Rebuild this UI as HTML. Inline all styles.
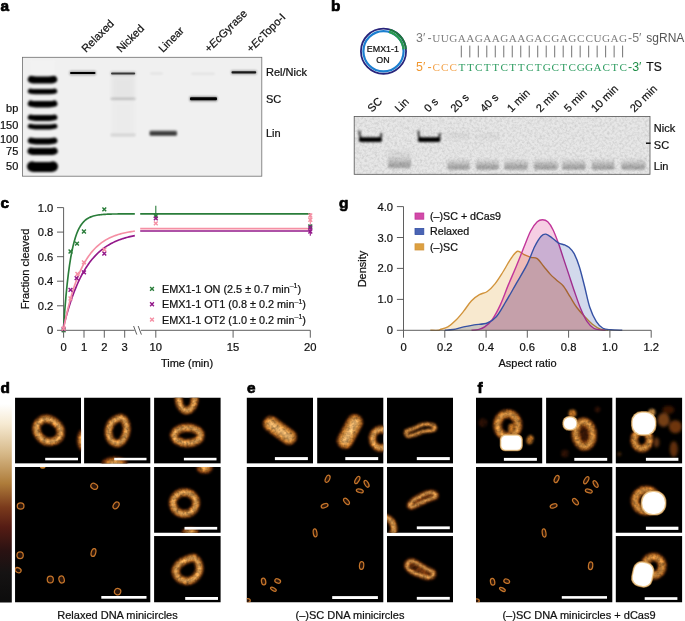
<!DOCTYPE html>
<html lang="en"><head><meta charset="utf-8"><title>Figure</title>
<style>
html,body{margin:0;padding:0;background:#fff;}
body{width:685px;height:621px;overflow:hidden;font-family:'Liberation Sans', sans-serif;}
svg{display:block;position:absolute;left:0;top:0;}
text{white-space:pre;}
</style></head>
<body>
<svg width="685" height="621" viewBox="0 0 685 621" font-family="'Liberation Sans', sans-serif" font-size="11">
<defs>
<filter id="b05" x="-50%" y="-200%" width="200%" height="500%"><feGaussianBlur stdDeviation="0.5"/></filter>
<filter id="b08" x="-50%" y="-200%" width="200%" height="500%"><feGaussianBlur stdDeviation="0.8"/></filter>
<filter id="b12" x="-50%" y="-200%" width="200%" height="500%"><feGaussianBlur stdDeviation="1.2"/></filter>
<filter id="b20" x="-50%" y="-200%" width="200%" height="500%"><feGaussianBlur stdDeviation="2"/></filter>
<filter id="afm" x="-100%" y="-100%" width="300%" height="300%" color-interpolation-filters="sRGB">
  <feGaussianBlur in="SourceGraphic" stdDeviation="1.0" result="b"/>
  <feTurbulence type="fractalNoise" baseFrequency="0.3" numOctaves="2" seed="11" result="n"/>
  <feColorMatrix in="n" type="matrix" values="0.8 0.8 0 0 -0.3  0.8 0.8 0 0 -0.3  0.8 0.8 0 0 -0.3  0 0 0 0 1" result="ng"/>
  <feComposite in="b" in2="ng" operator="arithmetic" k1="0.7" k2="0.68" k3="0" k4="0" result="m"/>
  <feGaussianBlur in="m" stdDeviation="0.45"/>
</filter>
<filter id="afmw" x="-100%" y="-100%" width="300%" height="300%"><feGaussianBlur stdDeviation="0.7"/></filter>
<filter id="afm3" x="-100%" y="-100%" width="300%" height="300%"><feGaussianBlur stdDeviation="1.8"/></filter>
<filter id="afm2" x="-30%" y="-30%" width="160%" height="160%"><feGaussianBlur stdDeviation="0.45"/></filter>
<filter id="noiseB" x="0" y="0" width="100%" height="100%">
  <feTurbulence type="fractalNoise" baseFrequency="0.4" numOctaves="3" seed="7" result="n"/>
  <feColorMatrix in="n" type="matrix" values="0 0 0 0 0  0 0 0 0 0  0 0 0 0 0  0.8 0 0 0 -0.3" result="m"/>
  <feGaussianBlur in="m" stdDeviation="0.5"/>
</filter>
<linearGradient id="cbar" x1="0" y1="0" x2="0" y2="1">
  <stop offset="0" stop-color="#ffffff"/>
  <stop offset="0.10" stop-color="#f6ead2"/>
  <stop offset="0.25" stop-color="#d6b888"/>
  <stop offset="0.40" stop-color="#ae7c3a"/>
  <stop offset="0.52" stop-color="#7a3a1c"/>
  <stop offset="0.62" stop-color="#551c14"/>
  <stop offset="0.74" stop-color="#2a1212"/>
  <stop offset="0.85" stop-color="#151313"/>
  <stop offset="1" stop-color="#0c0c0c"/>
</linearGradient>
<linearGradient id="smear" x1="0" y1="0" x2="0" y2="1">
  <stop offset="0" stop-color="#000" stop-opacity="0"/>
  <stop offset="0.35" stop-color="#000" stop-opacity="0.1"/>
  <stop offset="0.8" stop-color="#000" stop-opacity="0.3"/>
  <stop offset="1" stop-color="#000" stop-opacity="0.22"/>
</linearGradient>
<linearGradient id="smear2" x1="0" y1="0" x2="0" y2="1">
  <stop offset="0" stop-color="#000" stop-opacity="0.02"/>
  <stop offset="0.45" stop-color="#000" stop-opacity="0.08"/>
  <stop offset="0.85" stop-color="#000" stop-opacity="0.3"/>
  <stop offset="1" stop-color="#000" stop-opacity="0.2"/>
</linearGradient>
</defs>
<text x="0.5" y="11" font-size="15.4" fill="#000" font-weight="bold" stroke="#000" stroke-width="0.7" stroke-linejoin="round">a</text>
<text x="331" y="10.7" font-size="15.4" fill="#000" font-weight="bold" stroke="#000" stroke-width="0.7" stroke-linejoin="round">b</text>
<text x="0.5" y="208.2" font-size="15.4" fill="#000" font-weight="bold" stroke="#000" stroke-width="0.7" stroke-linejoin="round">c</text>
<text x="339.0" y="208.1" font-size="15.4" fill="#000" font-weight="bold" stroke="#000" stroke-width="0.7" stroke-linejoin="round">g</text>
<text x="0.5" y="392.6" font-size="15.4" fill="#000" font-weight="bold" stroke="#000" stroke-width="0.7" stroke-linejoin="round">d</text>
<text x="247" y="392.6" font-size="15.4" fill="#000" font-weight="bold" stroke="#000" stroke-width="0.7" stroke-linejoin="round">e</text>
<text x="477.6" y="392.6" font-size="15.4" fill="#000" font-weight="bold" stroke="#000" stroke-width="0.7" stroke-linejoin="round">f</text>
<rect x="22.5" y="57.3" width="239.3" height="118.89999999999999" fill="#f0f0f0" stroke="#6e6e6e" stroke-width="0.8"/>
<rect x="30" y="60" width="25" height="16" fill="#fff" opacity="0.16" filter="url(#b12)"/>
<g filter="url(#b08)" fill="none" stroke="#000" stroke-linecap="round" stroke-linejoin="round">
<path d="M31.4 79.4Q32.9 80.0 36.4 80.0H48.6Q52.1 80.0 53.6 79.4" stroke-width="7.2"/>
<path d="M30.4 91.1Q31.9 91.7 35.4 91.7H49.6Q53.1 91.7 54.6 91.1" stroke-width="5.2"/>
<path d="M31.0 103.6Q32.5 104.2 36.0 104.2H49.2Q52.7 104.2 54.2 103.6" stroke-width="6.4"/>
<path d="M30.7 117.4Q32.2 118.0 35.7 118.0H49.5Q53.0 118.0 54.5 117.4" stroke-width="5.8"/>
<path d="M30.3 126.3Q31.8 126.9 35.3 126.9H49.9Q53.4 126.9 54.9 126.3" stroke-width="5.0"/>
<path d="M30.9 140.7Q32.4 141.3 35.9 141.3H49.3Q52.8 141.3 54.3 140.7" stroke-width="6.2"/>
<path d="M31.0 151.0Q32.5 151.6 36.0 151.6H49.2Q52.7 151.6 54.2 151.0" stroke-width="7.0"/>
<path d="M32.1 166.4Q33.6 167.0 37.1 167.0H47.9Q51.4 167.0 52.9 166.4" stroke-width="10.2"/>
</g>
<rect x="111.5" y="76" width="23.5" height="24" fill="#000" opacity="0.04" filter="url(#b20)"/>
<rect x="111.5" y="100" width="23.5" height="36" fill="#000" opacity="0.015" filter="url(#b20)"/>
<rect x="69.5" y="70.80" width="26.5" height="4.4" rx="1" fill="#000" opacity="0.3" filter="url(#b08)"/>
<rect x="70" y="72.00" width="25.5" height="2.0" rx="1" fill="#000" opacity="1" filter="url(#b05)"/>
<rect x="110.5" y="71.40" width="25.2" height="4.0" rx="1" fill="#000" opacity="0.2" filter="url(#b08)"/>
<rect x="111" y="72.40" width="24.2" height="2.0" rx="1" fill="#000" opacity="0.7" filter="url(#b05)"/>
<rect x="110.5" y="97.80" width="25.2" height="2.0" rx="1" fill="#000" opacity="0.2" filter="url(#b08)"/>
<rect x="110.5" y="133.50" width="25.2" height="3.0" rx="1" fill="#000" opacity="0.1" filter="url(#b12)"/>
<rect x="150" y="72.40" width="13.0" height="2.0" rx="1" fill="#000" opacity="0.06" filter="url(#b08)"/>
<rect x="149.5" y="130.50" width="27.5" height="5.6" rx="1" fill="#000" opacity="0.45" filter="url(#b12)"/>
<rect x="150" y="131.70" width="26.5" height="3.2" rx="1" fill="#000" opacity="0.6" filter="url(#b08)"/>
<rect x="191" y="72.80" width="24.0" height="2.0" rx="1" fill="#000" opacity="0.06" filter="url(#b08)"/>
<rect x="189.6" y="96.40" width="27.7" height="4.8" rx="1" fill="#000" opacity="0.45" filter="url(#b08)"/>
<rect x="190" y="97.30" width="27.0" height="3.0" rx="1" fill="#000" opacity="1" filter="url(#b05)"/>
<rect x="231" y="70.20" width="25.7" height="4.2" rx="1" fill="#000" opacity="0.3" filter="url(#b08)"/>
<rect x="231.5" y="71.15" width="24.7" height="2.3" rx="1" fill="#000" opacity="0.85" filter="url(#b05)"/>
<text x="86" y="53" font-size="11" fill="#111" transform="rotate(-45 86 53)" stroke="#111" stroke-width="0.22">Relaxed</text>
<text x="121" y="53" font-size="11" fill="#111" transform="rotate(-45 121 53)" stroke="#111" stroke-width="0.22">Nicked</text>
<text x="163" y="53" font-size="11" fill="#111" transform="rotate(-45 163 53)" stroke="#111" stroke-width="0.22">Linear</text>
<text x="209" y="53" font-size="11" fill="#111" transform="rotate(-45 209 53)" stroke="#111" stroke-width="0.22">+<tspan font-style="italic">Ec</tspan>Gyrase</text>
<text x="251" y="53" font-size="11" fill="#111" transform="rotate(-45 251 53)" stroke="#111" stroke-width="0.22">+<tspan font-style="italic">Ec</tspan>Topo-I</text>
<text x="18.3" y="111.6" font-size="11" fill="#111" text-anchor="end" stroke="#111" stroke-width="0.22">bp</text>
<text x="18.3" y="129" font-size="11" fill="#111" text-anchor="end" stroke="#111" stroke-width="0.22">150</text>
<text x="18.3" y="143" font-size="11" fill="#111" text-anchor="end" stroke="#111" stroke-width="0.22">100</text>
<text x="18.3" y="155" font-size="11" fill="#111" text-anchor="end" stroke="#111" stroke-width="0.22">75</text>
<text x="18.3" y="170" font-size="11" fill="#111" text-anchor="end" stroke="#111" stroke-width="0.22">50</text>
<text x="266" y="76" font-size="11" fill="#111" stroke="#111" stroke-width="0.22">Rel/Nick</text>
<text x="266" y="103" font-size="11" fill="#111" stroke="#111" stroke-width="0.22">SC</text>
<text x="266" y="137" font-size="11" fill="#111" stroke="#111" stroke-width="0.22">Lin</text>
<circle cx="383.5" cy="51.2" r="22.55" fill="#fff" stroke="#27247b" stroke-width="1.8"/>
<circle cx="383.5" cy="51.2" r="20.1" fill="none" stroke="#1b7fd0" stroke-width="2.2"/>
<path d="M389.72 29.52 A22.55 22.55 0 0 1 405.96 49.23" fill="none" stroke="#1b7a3a" stroke-width="1.8"/>
<path d="M389.04 31.88 A20.1 20.1 0 0 1 403.52 49.45" fill="none" stroke="#2a9a4c" stroke-width="2.2"/>
<text x="382.9" y="51.6" font-size="8.9" fill="#111" text-anchor="middle" stroke="#111" stroke-width="0.22">EMX1-1</text>
<text x="382.9" y="63" font-size="8.9" fill="#111" text-anchor="middle" stroke="#111" stroke-width="0.22">ON</text>
<text x="416" y="41.6" font-size="12.4" fill="#7a7a7a">3′<tspan dx="2.2">-</tspan></text>
<text x="432.30 440.79 449.28 457.77 466.26 474.75 483.24 491.73 500.22 508.71 517.20 525.69 534.18 542.98 551.16 559.65 568.14 576.94 585.43 593.61 602.10 610.59 619.08" y="41.7" font-family="'Liberation Serif', serif" font-size="11.2" fill="#7f7f7f">UUGAAGAAGAAGACGAGCCUGAG</text>
<text x="628.0" y="41.6" font-size="12.4" fill="#7a7a7a">-5′</text>
<text x="646.3" y="41.5" font-size="12" fill="#555">sgRNA</text>
<text x="416" y="70.9" font-size="12.4" fill="#f0962e">5′<tspan dx="2.2">-</tspan></text>
<text x="432.61 441.10 449.59 458.39 466.88 475.06 483.86 492.35 500.53 509.33 517.82 526.00 534.80 542.67 551.47 560.27 568.45 576.63 585.12 593.61 602.41 611.21 619.39" y="70.7" font-family="'Liberation Serif', serif" font-size="11.2" fill="#2f9d62"><tspan fill="#f3a24a">CCC</tspan>TTCTTCTTCTGCTCGGACTC</text>
<text x="628.0" y="70.9" font-size="12.4" fill="#1c8c45">-3′</text>
<text x="646.3" y="70.8" font-size="12" fill="#111" stroke="#111" stroke-width="0.22">TS</text>
<line x1="461.31" y1="45.6" x2="461.31" y2="57.4" stroke="#444" stroke-width="0.75"/>
<line x1="469.81" y1="45.6" x2="469.81" y2="57.4" stroke="#444" stroke-width="0.75"/>
<line x1="478.30" y1="45.6" x2="478.30" y2="57.4" stroke="#444" stroke-width="0.75"/>
<line x1="486.79" y1="45.6" x2="486.79" y2="57.4" stroke="#444" stroke-width="0.75"/>
<line x1="495.28" y1="45.6" x2="495.28" y2="57.4" stroke="#444" stroke-width="0.75"/>
<line x1="503.77" y1="45.6" x2="503.77" y2="57.4" stroke="#444" stroke-width="0.75"/>
<line x1="512.25" y1="45.6" x2="512.25" y2="57.4" stroke="#444" stroke-width="0.75"/>
<line x1="520.75" y1="45.6" x2="520.75" y2="57.4" stroke="#444" stroke-width="0.75"/>
<line x1="529.24" y1="45.6" x2="529.24" y2="57.4" stroke="#444" stroke-width="0.75"/>
<line x1="537.72" y1="45.6" x2="537.72" y2="57.4" stroke="#444" stroke-width="0.75"/>
<line x1="546.21" y1="45.6" x2="546.21" y2="57.4" stroke="#444" stroke-width="0.75"/>
<line x1="554.70" y1="45.6" x2="554.70" y2="57.4" stroke="#444" stroke-width="0.75"/>
<line x1="563.19" y1="45.6" x2="563.19" y2="57.4" stroke="#444" stroke-width="0.75"/>
<line x1="571.68" y1="45.6" x2="571.68" y2="57.4" stroke="#444" stroke-width="0.75"/>
<line x1="580.17" y1="45.6" x2="580.17" y2="57.4" stroke="#444" stroke-width="0.75"/>
<line x1="588.66" y1="45.6" x2="588.66" y2="57.4" stroke="#444" stroke-width="0.75"/>
<line x1="597.15" y1="45.6" x2="597.15" y2="57.4" stroke="#444" stroke-width="0.75"/>
<line x1="605.64" y1="45.6" x2="605.64" y2="57.4" stroke="#444" stroke-width="0.75"/>
<line x1="614.13" y1="45.6" x2="614.13" y2="57.4" stroke="#444" stroke-width="0.75"/>
<line x1="622.62" y1="45.6" x2="622.62" y2="57.4" stroke="#444" stroke-width="0.75"/>
<rect x="354.2" y="116.5" width="295.8" height="57.80000000000001" fill="#e7e7e7"/>
<rect x="354.2" y="116.5" width="295.8" height="57.80000000000001" fill="#000" filter="url(#noiseB)" opacity="0.27"/>
<clipPath id="cpgb"><rect x="354.2" y="116.5" width="295.8" height="57.80000000000001"/></clipPath>
<g clip-path="url(#cpgb)">
<g filter="url(#b08)">
<rect x="388" y="149.5" width="23" height="19" rx="3" fill="url(#smear2)"/>
<rect x="447.3" y="157.5" width="22.4" height="12.4" rx="2.5" fill="url(#smear)"/>
<rect x="476.0" y="157.5" width="22.5" height="12.4" rx="2.5" fill="url(#smear)"/>
<rect x="504.3" y="157.5" width="23.4" height="12.4" rx="2.5" fill="url(#smear)"/>
<rect x="533.9" y="157.5" width="23.5" height="12.4" rx="2.5" fill="url(#smear)"/>
<rect x="562.3" y="157.5" width="23.4" height="12.4" rx="2.5" fill="url(#smear)"/>
<rect x="591.6999999999999" y="157.5" width="22.8" height="12.4" rx="2.5" fill="url(#smear)"/>
<rect x="621.3" y="157.5" width="24.1" height="12.4" rx="2.5" fill="url(#smear)"/>
</g>
<g filter="url(#b20)">
<rect x="447" y="133" width="23" height="5" rx="2" fill="#000" opacity="0.07"/>
<rect x="476" y="134" width="23" height="5" rx="2" fill="#000" opacity="0.05"/>
</g>
<g filter="url(#b08)">
<path d="M359.6 130.5 Q359.1 138.5 362.8 139.6 H378 Q381.7 138.5 381.2 133" fill="none" stroke="#000" stroke-width="2.2" opacity="0.7"/>
<rect x="358.8" y="137.3" width="23.2" height="4.8" rx="2" fill="#000"/>
<path d="M418.6 130.5 Q418.1 138.5 421.8 139.6 H436.5 Q440.2 138.5 439.7 133" fill="none" stroke="#000" stroke-width="2.2" opacity="0.7"/>
<rect x="417.8" y="137.3" width="22.7" height="4.8" rx="2" fill="#000"/>
</g>
</g>
<rect x="354.2" y="116.5" width="295.8" height="57.80000000000001" fill="none" stroke="#555" stroke-width="0.8"/>
<rect x="646" y="142.5" width="4.6" height="1.4" fill="#000" filter="url(#b05)"/>
<text x="372" y="112.8" font-size="11" fill="#111" transform="rotate(-45 372 112.8)" stroke="#111" stroke-width="0.22">SC</text>
<text x="399.3" y="112.8" font-size="11" fill="#111" transform="rotate(-45 399.3 112.8)" stroke="#111" stroke-width="0.22">Lin</text>
<text x="428.5" y="112.8" font-size="11" fill="#111" transform="rotate(-45 428.5 112.8)" stroke="#111" stroke-width="0.22">0 s</text>
<text x="455" y="112.8" font-size="11" fill="#111" transform="rotate(-45 455 112.8)" stroke="#111" stroke-width="0.22">20 s</text>
<text x="484.5" y="112.8" font-size="11" fill="#111" transform="rotate(-45 484.5 112.8)" stroke="#111" stroke-width="0.22">40 s</text>
<text x="511.5" y="112.8" font-size="11" fill="#111" transform="rotate(-45 511.5 112.8)" stroke="#111" stroke-width="0.22">1 min</text>
<text x="540.5" y="112.8" font-size="11" fill="#111" transform="rotate(-45 540.5 112.8)" stroke="#111" stroke-width="0.22">2 min</text>
<text x="568.5" y="112.8" font-size="11" fill="#111" transform="rotate(-45 568.5 112.8)" stroke="#111" stroke-width="0.22">5 min</text>
<text x="595.5" y="112.8" font-size="11" fill="#111" transform="rotate(-45 595.5 112.8)" stroke="#111" stroke-width="0.22">10 min</text>
<text x="634.5" y="112.8" font-size="11" fill="#111" transform="rotate(-45 634.5 112.8)" stroke="#111" stroke-width="0.22">20 min</text>
<text x="653.8" y="131.7" font-size="11" fill="#111" stroke="#111" stroke-width="0.22">Nick</text>
<text x="653.8" y="149.3" font-size="11" fill="#111" stroke="#111" stroke-width="0.22">SC</text>
<text x="653.8" y="170" font-size="11" fill="#111" stroke="#111" stroke-width="0.22">Lin</text>
<path d="M63.6 207.6V330.3H134.6M141 330.3H310.3" fill="none" stroke="#4d4d4d" stroke-width="0.9"/>
<path d="M133.6 326L136.8 334.6M138.2 326L141.4 334.6" fill="none" stroke="#4d4d4d" stroke-width="0.9"/>
<line x1="57.0" x2="63.6" y1="330.3" y2="330.3" stroke="#4d4d4d" stroke-width="0.9"/>
<text x="53.3" y="334.3" font-size="11.2" fill="#111" text-anchor="end" stroke="#111" stroke-width="0.22">0</text>
<line x1="57.0" x2="63.6" y1="305.8" y2="305.8" stroke="#4d4d4d" stroke-width="0.9"/>
<text x="53.3" y="309.8" font-size="11.2" fill="#111" text-anchor="end" stroke="#111" stroke-width="0.22">0.2</text>
<line x1="57.0" x2="63.6" y1="281.2" y2="281.2" stroke="#4d4d4d" stroke-width="0.9"/>
<text x="53.3" y="285.2" font-size="11.2" fill="#111" text-anchor="end" stroke="#111" stroke-width="0.22">0.4</text>
<line x1="57.0" x2="63.6" y1="256.7" y2="256.7" stroke="#4d4d4d" stroke-width="0.9"/>
<text x="53.3" y="260.7" font-size="11.2" fill="#111" text-anchor="end" stroke="#111" stroke-width="0.22">0.6</text>
<line x1="57.0" x2="63.6" y1="232.1" y2="232.1" stroke="#4d4d4d" stroke-width="0.9"/>
<text x="53.3" y="236.1" font-size="11.2" fill="#111" text-anchor="end" stroke="#111" stroke-width="0.22">0.8</text>
<line x1="57.0" x2="63.6" y1="207.6" y2="207.6" stroke="#4d4d4d" stroke-width="0.9"/>
<text x="53.3" y="211.6" font-size="11.2" fill="#111" text-anchor="end" stroke="#111" stroke-width="0.22">1.0</text>
<line x1="63.6" x2="63.6" y1="330.3" y2="337.7" stroke="#4d4d4d" stroke-width="0.9"/>
<text x="63.6" y="351.3" font-size="11.2" fill="#111" text-anchor="middle" stroke="#111" stroke-width="0.22">0</text>
<line x1="84.0" x2="84.0" y1="330.3" y2="337.7" stroke="#4d4d4d" stroke-width="0.9"/>
<text x="84.0" y="351.3" font-size="11.2" fill="#111" text-anchor="middle" stroke="#111" stroke-width="0.22">1</text>
<line x1="104.3" x2="104.3" y1="330.3" y2="337.7" stroke="#4d4d4d" stroke-width="0.9"/>
<text x="104.3" y="351.3" font-size="11.2" fill="#111" text-anchor="middle" stroke="#111" stroke-width="0.22">2</text>
<line x1="124.7" x2="124.7" y1="330.3" y2="337.7" stroke="#4d4d4d" stroke-width="0.9"/>
<text x="124.7" y="351.3" font-size="11.2" fill="#111" text-anchor="middle" stroke="#111" stroke-width="0.22">3</text>
<line x1="155.8" x2="155.8" y1="330.3" y2="337.7" stroke="#4d4d4d" stroke-width="0.9"/>
<text x="155.8" y="351.3" font-size="11.2" fill="#111" text-anchor="middle" stroke="#111" stroke-width="0.22">10</text>
<line x1="233.1" x2="233.1" y1="330.3" y2="337.7" stroke="#4d4d4d" stroke-width="0.9"/>
<text x="233.1" y="351.3" font-size="11.2" fill="#111" text-anchor="middle" stroke="#111" stroke-width="0.22">15</text>
<line x1="310.3" x2="310.3" y1="330.3" y2="337.7" stroke="#4d4d4d" stroke-width="0.9"/>
<text x="310.3" y="351.3" font-size="11.2" fill="#111" text-anchor="middle" stroke="#111" stroke-width="0.22">20</text>
<text x="187" y="367.3" font-size="11" fill="#111" text-anchor="middle" stroke="#111" stroke-width="0.22">Time (min)</text>
<text x="29" y="269" font-size="11" fill="#111" text-anchor="middle" transform="rotate(-90 29 269)" stroke="#111" stroke-width="0.22">Fraction cleaved</text>
<path d="M63.60 326.62L64.79 310.19L65.97 296.15L67.16 284.16L68.35 273.91L69.54 265.16L70.72 257.69L71.91 251.30L73.10 245.84L74.28 241.18L75.47 237.20L76.66 233.80L77.84 230.89L79.03 228.41L80.22 226.29L81.41 224.48L82.59 222.93L83.78 221.61L84.97 220.48L86.15 219.51L87.34 218.69L88.53 217.99L89.72 217.38L90.90 216.87L92.09 216.43L93.28 216.06L94.46 215.74L95.65 215.46L96.84 215.23L98.03 215.03L99.21 214.86L100.40 214.71L101.59 214.59L102.77 214.48L103.96 214.39L105.15 214.31L106.34 214.25L107.52 214.19L108.71 214.14L109.90 214.10L111.08 214.06L112.27 214.03L113.46 214.01L114.64 213.99L115.83 213.97L117.02 213.95L118.21 213.94L119.39 213.93L120.58 213.92L121.77 213.91L122.95 213.90L124.14 213.89L125.33 213.89L126.52 213.88L127.70 213.88L128.89 213.88L130.08 213.87L131.26 213.87L132.45 213.87L133.64 213.87L134.83 213.87" fill="none" stroke="#2a7d3a" stroke-width="1.65" stroke-linejoin="round"/>
<path d="M140.2 213.86H310.3" fill="none" stroke="#2a7d3a" stroke-width="1.65"/>
<path d="M63.60 326.62L64.79 321.89L65.97 317.39L67.16 313.12L68.35 309.06L69.54 305.20L70.72 301.53L71.91 298.04L73.10 294.72L74.28 291.57L75.47 288.58L76.66 285.73L77.84 283.02L79.03 280.45L80.22 278.01L81.41 275.68L82.59 273.47L83.78 271.37L84.97 269.38L86.15 267.48L87.34 265.68L88.53 263.96L89.72 262.33L90.90 260.78L92.09 259.31L93.28 257.91L94.46 256.58L95.65 255.32L96.84 254.12L98.03 252.97L99.21 251.89L100.40 250.86L101.59 249.88L102.77 248.94L103.96 248.06L105.15 247.22L106.34 246.41L107.52 245.65L108.71 244.93L109.90 244.24L111.08 243.59L112.27 242.97L113.46 242.38L114.64 241.82L115.83 241.28L117.02 240.78L118.21 240.29L119.39 239.84L120.58 239.40L121.77 238.99L122.95 238.59L124.14 238.22L125.33 237.86L126.52 237.53L127.70 237.20L128.89 236.90L130.08 236.61L131.26 236.33L132.45 236.07L133.64 235.82L134.83 235.59" fill="none" stroke="#93188a" stroke-width="1.65" stroke-linejoin="round"/>
<path d="M140.2 231.04H310.3" fill="none" stroke="#93188a" stroke-width="1.65"/>
<path d="M63.60 328.83L64.79 322.87L65.97 317.27L67.16 312.00L68.35 307.04L69.54 302.38L70.72 298.00L71.91 293.87L73.10 289.99L74.28 286.35L75.47 282.91L76.66 279.69L77.84 276.65L79.03 273.79L80.22 271.11L81.41 268.58L82.59 266.21L83.78 263.97L84.97 261.87L86.15 259.89L87.34 258.03L88.53 256.28L89.72 254.63L90.90 253.09L92.09 251.63L93.28 250.26L94.46 248.97L95.65 247.76L96.84 246.62L98.03 245.55L99.21 244.54L100.40 243.59L101.59 242.70L102.77 241.86L103.96 241.07L105.15 240.33L106.34 239.63L107.52 238.98L108.71 238.36L109.90 237.78L111.08 237.23L112.27 236.72L113.46 236.23L114.64 235.78L115.83 235.35L117.02 234.95L118.21 234.57L119.39 234.22L120.58 233.88L121.77 233.57L122.95 233.27L124.14 232.99L125.33 232.73L126.52 232.48L127.70 232.25L128.89 232.03L130.08 231.83L131.26 231.64L132.45 231.45L133.64 231.28L134.83 231.12" fill="none" stroke="#f58fa4" stroke-width="1.65" stroke-linejoin="round"/>
<path d="M140.2 228.58H310.3" fill="none" stroke="#f58fa4" stroke-width="1.65"/>
<line x1="155.8" x2="155.8" y1="205.8" y2="217.4" stroke="#2a7d3a" stroke-width="1.1"/>
<line x1="310.3" x2="310.3" y1="224.2" y2="235.8" stroke="#93188a" stroke-width="1.1"/>
<line x1="310.3" x2="310.3" y1="213.1" y2="224.2" stroke="#f58fa4" stroke-width="1.1"/>
<path d="M61.7 328.4L65.5 332.2M61.7 332.2L65.5 328.4" stroke="#2a7d3a" stroke-width="1.45" fill="none"/>
<path d="M68.6 249.6L72.4 253.4M68.6 253.4L72.4 249.6" stroke="#2a7d3a" stroke-width="1.45" fill="none"/>
<path d="M75.1 241.8L78.9 245.6M75.1 245.6L78.9 241.8" stroke="#2a7d3a" stroke-width="1.45" fill="none"/>
<path d="M82.0 229.6L85.9 233.4M82.0 233.4L85.9 229.6" stroke="#2a7d3a" stroke-width="1.45" fill="none"/>
<path d="M102.4 207.5L106.2 211.3M102.4 211.3L106.2 207.5" stroke="#2a7d3a" stroke-width="1.45" fill="none"/>
<path d="M153.9 214.3L157.7 218.1M153.9 218.1L157.7 214.3" stroke="#2a7d3a" stroke-width="1.45" fill="none"/>
<path d="M308.4 224.6L312.2 228.4M308.4 228.4L312.2 224.6" stroke="#2a7d3a" stroke-width="1.45" fill="none"/>
<path d="M61.7 327.2L65.5 331.0M61.7 331.0L65.5 327.2" stroke="#93188a" stroke-width="1.45" fill="none"/>
<path d="M68.6 288.0L72.4 291.8M68.6 291.8L72.4 288.0" stroke="#93188a" stroke-width="1.45" fill="none"/>
<path d="M74.7 276.3L78.5 280.1M74.7 280.1L78.5 276.3" stroke="#93188a" stroke-width="1.45" fill="none"/>
<path d="M82.0 270.4L85.9 274.2M82.0 274.2L85.9 270.4" stroke="#93188a" stroke-width="1.45" fill="none"/>
<path d="M102.4 251.6L106.2 255.4M102.4 255.4L106.2 251.6" stroke="#93188a" stroke-width="1.45" fill="none"/>
<path d="M153.9 216.5L157.7 220.3M153.9 220.3L157.7 216.5" stroke="#93188a" stroke-width="1.45" fill="none"/>
<path d="M308.4 225.8L312.2 229.6M308.4 229.6L312.2 225.8" stroke="#93188a" stroke-width="1.45" fill="none"/>
<path d="M308.4 229.6L312.2 233.4M308.4 233.4L312.2 229.6" stroke="#93188a" stroke-width="1.45" fill="none"/>
<path d="M61.7 326.6L65.5 330.4M61.7 330.4L65.5 326.6" stroke="#f58fa4" stroke-width="1.45" fill="none"/>
<path d="M68.6 296.6L72.4 300.4M68.6 300.4L72.4 296.6" stroke="#f58fa4" stroke-width="1.45" fill="none"/>
<path d="M75.5 272.1L79.3 275.9M75.5 275.9L79.3 272.1" stroke="#f58fa4" stroke-width="1.45" fill="none"/>
<path d="M82.0 260.5L85.9 264.3M82.0 264.3L85.9 260.5" stroke="#f58fa4" stroke-width="1.45" fill="none"/>
<path d="M102.4 247.8L106.2 251.6M102.4 251.6L106.2 247.8" stroke="#f58fa4" stroke-width="1.45" fill="none"/>
<path d="M153.9 221.4L157.7 225.2M153.9 225.2L157.7 221.4" stroke="#f58fa4" stroke-width="1.45" fill="none"/>
<path d="M308.4 213.6L312.2 217.4M308.4 217.4L312.2 213.6" stroke="#f58fa4" stroke-width="1.45" fill="none"/>
<path d="M308.4 218.0L312.2 221.8M308.4 221.8L312.2 218.0" stroke="#f58fa4" stroke-width="1.45" fill="none"/>
<path d="M150.1 286.90000000000003L153.9 290.7M150.1 290.7L153.9 286.90000000000003" stroke="#2a7d3a" stroke-width="1.45" fill="none"/>
<text x="162" y="292.8" font-size="10.85" fill="#111" stroke="#111" stroke-width="0.22">EMX1-1 ON (2.5 ± 0.7 min<tspan font-size="7" dy="-4.6">–1</tspan><tspan dy="4.6">)</tspan></text>
<path d="M150.1 302.35L153.9 306.15M150.1 306.15L153.9 302.35" stroke="#93188a" stroke-width="1.45" fill="none"/>
<text x="162" y="308.2" font-size="10.85" fill="#111" stroke="#111" stroke-width="0.22">EMX1-1 OT1 (0.8 ± 0.2 min<tspan font-size="7" dy="-4.6">–1</tspan><tspan dy="4.6">)</tspan></text>
<path d="M150.1 317.8L153.9 321.59999999999997M150.1 321.59999999999997L153.9 317.8" stroke="#f58fa4" stroke-width="1.45" fill="none"/>
<text x="162" y="323.7" font-size="10.85" fill="#111" stroke="#111" stroke-width="0.22">EMX1-1 OT2 (1.0 ± 0.2 min<tspan font-size="7" dy="-4.6">–1</tspan><tspan dy="4.6">)</tspan></text>
<g style="isolation:isolate">
<path d="M430.33 330.30C431.71 330.30 436.98 330.42 438.59 330.30C440.20 330.18 438.45 330.12 440.00 329.56C441.55 329.00 445.26 328.47 447.88 326.93C450.51 325.40 453.14 322.99 455.77 320.36C458.39 317.74 461.02 314.45 463.65 311.17C466.28 307.88 468.91 303.42 471.53 300.66C474.16 297.90 476.79 296.15 479.42 294.61C482.04 293.08 484.67 293.30 487.30 291.46C489.93 289.62 492.55 286.86 495.18 283.58C497.81 280.29 500.44 275.91 503.07 271.75C505.69 267.59 508.54 262.03 510.95 258.61C513.36 255.20 515.33 251.91 517.52 251.26C519.71 250.60 521.90 253.66 524.09 254.67C526.28 255.68 528.47 256.64 530.66 257.30C532.85 257.96 535.04 257.08 537.23 258.61C539.42 260.15 541.61 263.87 543.80 266.50C545.99 269.12 548.18 272.06 550.36 274.38C552.55 276.70 554.74 278.45 556.93 280.42C559.12 282.39 561.31 283.49 563.50 286.20C565.69 288.92 567.88 293.21 570.07 296.72C572.26 300.22 574.23 303.94 576.64 307.23C579.05 310.51 581.90 313.58 584.53 316.42C587.15 319.27 589.78 322.20 592.41 324.31C595.04 326.41 597.66 328.03 600.29 329.04C602.92 330.04 606.86 330.11 608.18 330.32Z" fill="#f8e9cf" stroke="none" style="mix-blend-mode:multiply"/>
<path d="M430.33 330.30C431.71 330.30 436.98 330.42 438.59 330.30C440.20 330.18 438.45 330.12 440.00 329.56C441.55 329.00 445.26 328.47 447.88 326.93C450.51 325.40 453.14 322.99 455.77 320.36C458.39 317.74 461.02 314.45 463.65 311.17C466.28 307.88 468.91 303.42 471.53 300.66C474.16 297.90 476.79 296.15 479.42 294.61C482.04 293.08 484.67 293.30 487.30 291.46C489.93 289.62 492.55 286.86 495.18 283.58C497.81 280.29 500.44 275.91 503.07 271.75C505.69 267.59 508.54 262.03 510.95 258.61C513.36 255.20 515.33 251.91 517.52 251.26C519.71 250.60 521.90 253.66 524.09 254.67C526.28 255.68 528.47 256.64 530.66 257.30C532.85 257.96 535.04 257.08 537.23 258.61C539.42 260.15 541.61 263.87 543.80 266.50C545.99 269.12 548.18 272.06 550.36 274.38C552.55 276.70 554.74 278.45 556.93 280.42C559.12 282.39 561.31 283.49 563.50 286.20C565.69 288.92 567.88 293.21 570.07 296.72C572.26 300.22 574.23 303.94 576.64 307.23C579.05 310.51 581.90 313.58 584.53 316.42C587.15 319.27 589.78 322.20 592.41 324.31C595.04 326.41 597.66 328.03 600.29 329.04C602.92 330.04 606.86 330.11 608.18 330.32" fill="none" stroke="#d2943c" stroke-width="1.4" stroke-linejoin="round"/>
<path d="M471.53 330.32C472.63 330.20 475.91 330.13 478.10 329.56C480.29 329.00 482.26 328.69 484.67 326.93C487.08 325.18 489.93 322.77 492.55 319.05C495.18 315.33 497.81 310.29 500.44 304.60C503.07 298.91 505.69 291.24 508.32 284.89C510.95 278.54 513.58 272.85 516.20 266.50C518.83 260.15 521.68 252.70 524.09 246.79C526.50 240.88 528.47 235.18 530.66 231.02C532.85 226.86 535.26 223.71 537.23 221.82C539.20 219.94 540.73 219.72 542.48 219.72C544.23 219.72 545.99 220.16 547.74 221.82C549.49 223.49 551.24 226.20 552.99 229.71C554.74 233.21 556.50 238.03 558.25 242.85C560.00 247.66 561.75 253.36 563.50 258.61C565.26 263.87 567.01 269.12 568.76 274.38C570.51 279.64 572.04 284.45 574.01 290.15C575.99 295.84 578.39 303.28 580.58 308.54C582.77 313.80 584.96 318.39 587.15 321.68C589.34 324.96 591.53 326.89 593.72 328.25C595.91 329.61 598.32 329.48 600.29 329.82C602.26 330.17 604.67 330.24 605.55 330.32Z" fill="#f6cee3" stroke="none" style="mix-blend-mode:multiply"/>
<path d="M471.53 330.32C472.63 330.20 475.91 330.13 478.10 329.56C480.29 329.00 482.26 328.69 484.67 326.93C487.08 325.18 489.93 322.77 492.55 319.05C495.18 315.33 497.81 310.29 500.44 304.60C503.07 298.91 505.69 291.24 508.32 284.89C510.95 278.54 513.58 272.85 516.20 266.50C518.83 260.15 521.68 252.70 524.09 246.79C526.50 240.88 528.47 235.18 530.66 231.02C532.85 226.86 535.26 223.71 537.23 221.82C539.20 219.94 540.73 219.72 542.48 219.72C544.23 219.72 545.99 220.16 547.74 221.82C549.49 223.49 551.24 226.20 552.99 229.71C554.74 233.21 556.50 238.03 558.25 242.85C560.00 247.66 561.75 253.36 563.50 258.61C565.26 263.87 567.01 269.12 568.76 274.38C570.51 279.64 572.04 284.45 574.01 290.15C575.99 295.84 578.39 303.28 580.58 308.54C582.77 313.80 584.96 318.39 587.15 321.68C589.34 324.96 591.53 326.89 593.72 328.25C595.91 329.61 598.32 329.48 600.29 329.82C602.26 330.17 604.67 330.24 605.55 330.32" fill="none" stroke="#c2359a" stroke-width="1.4" stroke-linejoin="round"/>
<path d="M444.78 330.30C446.17 330.18 449.99 330.12 453.14 329.56C456.28 329.00 460.15 327.72 463.65 326.93C467.15 326.15 470.22 325.49 474.16 324.83C478.10 324.18 483.58 324.39 487.30 322.99C491.02 321.59 493.43 319.93 496.50 316.42C499.56 312.92 502.41 307.45 505.69 301.97C508.98 296.50 512.70 289.71 516.20 283.58C519.71 277.45 523.65 271.31 526.72 265.18C529.78 259.05 532.19 251.61 534.60 246.79C537.01 241.97 539.28 238.38 541.17 236.28C543.05 234.18 544.15 233.96 545.90 234.18C547.65 234.39 549.62 236.15 551.68 237.59C553.74 239.04 556.06 241.62 558.25 242.85C560.44 244.07 562.98 244.16 564.82 244.95C566.66 245.74 567.75 246.18 569.28 247.58C570.82 248.98 572.35 250.20 574.01 253.36C575.68 256.51 577.52 261.02 579.27 266.50C581.02 271.97 582.77 279.42 584.53 286.20C586.28 292.99 587.81 301.31 589.78 307.23C591.75 313.14 594.16 318.18 596.35 321.68C598.54 325.18 600.51 326.89 602.92 328.25C605.33 329.61 607.58 329.48 610.80 329.82C614.03 330.17 620.37 330.22 622.28 330.30Z" fill="#d2d9ec" stroke="none" style="mix-blend-mode:multiply"/>
<path d="M444.78 330.30C446.17 330.18 449.99 330.12 453.14 329.56C456.28 329.00 460.15 327.72 463.65 326.93C467.15 326.15 470.22 325.49 474.16 324.83C478.10 324.18 483.58 324.39 487.30 322.99C491.02 321.59 493.43 319.93 496.50 316.42C499.56 312.92 502.41 307.45 505.69 301.97C508.98 296.50 512.70 289.71 516.20 283.58C519.71 277.45 523.65 271.31 526.72 265.18C529.78 259.05 532.19 251.61 534.60 246.79C537.01 241.97 539.28 238.38 541.17 236.28C543.05 234.18 544.15 233.96 545.90 234.18C547.65 234.39 549.62 236.15 551.68 237.59C553.74 239.04 556.06 241.62 558.25 242.85C560.44 244.07 562.98 244.16 564.82 244.95C566.66 245.74 567.75 246.18 569.28 247.58C570.82 248.98 572.35 250.20 574.01 253.36C575.68 256.51 577.52 261.02 579.27 266.50C581.02 271.97 582.77 279.42 584.53 286.20C586.28 292.99 587.81 301.31 589.78 307.23C591.75 313.14 594.16 318.18 596.35 321.68C598.54 325.18 600.51 326.89 602.92 328.25C605.33 329.61 607.58 329.48 610.80 329.82C614.03 330.17 620.37 330.22 622.28 330.30" fill="none" stroke="#3551a4" stroke-width="1.4" stroke-linejoin="round"/>
</g>
<path d="M403.5 206.6V330.3H651.2" fill="none" stroke="#4d4d4d" stroke-width="0.9"/>
<line x1="396.9" x2="403.5" y1="330.3" y2="330.3" stroke="#4d4d4d" stroke-width="0.9"/>
<text x="393" y="334.3" font-size="11.2" fill="#111" text-anchor="end" stroke="#111" stroke-width="0.22">0</text>
<line x1="396.9" x2="403.5" y1="299.4" y2="299.4" stroke="#4d4d4d" stroke-width="0.9"/>
<text x="393" y="303.4" font-size="11.2" fill="#111" text-anchor="end" stroke="#111" stroke-width="0.22">1.0</text>
<line x1="396.9" x2="403.5" y1="268.4" y2="268.4" stroke="#4d4d4d" stroke-width="0.9"/>
<text x="393" y="272.4" font-size="11.2" fill="#111" text-anchor="end" stroke="#111" stroke-width="0.22">2.0</text>
<line x1="396.9" x2="403.5" y1="237.5" y2="237.5" stroke="#4d4d4d" stroke-width="0.9"/>
<text x="393" y="241.5" font-size="11.2" fill="#111" text-anchor="end" stroke="#111" stroke-width="0.22">3.0</text>
<line x1="396.9" x2="403.5" y1="206.6" y2="206.6" stroke="#4d4d4d" stroke-width="0.9"/>
<text x="393" y="210.6" font-size="11.2" fill="#111" text-anchor="end" stroke="#111" stroke-width="0.22">4.0</text>
<line x1="403.5" x2="403.5" y1="330.3" y2="337.7" stroke="#4d4d4d" stroke-width="0.9"/>
<text x="403.5" y="351.3" font-size="11.2" fill="#111" text-anchor="middle" stroke="#111" stroke-width="0.22">0</text>
<line x1="444.8" x2="444.8" y1="330.3" y2="337.7" stroke="#4d4d4d" stroke-width="0.9"/>
<text x="444.8" y="351.3" font-size="11.2" fill="#111" text-anchor="middle" stroke="#111" stroke-width="0.22">0.2</text>
<line x1="486.1" x2="486.1" y1="330.3" y2="337.7" stroke="#4d4d4d" stroke-width="0.9"/>
<text x="486.1" y="351.3" font-size="11.2" fill="#111" text-anchor="middle" stroke="#111" stroke-width="0.22">0.4</text>
<line x1="527.3" x2="527.3" y1="330.3" y2="337.7" stroke="#4d4d4d" stroke-width="0.9"/>
<text x="527.3" y="351.3" font-size="11.2" fill="#111" text-anchor="middle" stroke="#111" stroke-width="0.22">0.6</text>
<line x1="568.6" x2="568.6" y1="330.3" y2="337.7" stroke="#4d4d4d" stroke-width="0.9"/>
<text x="568.6" y="351.3" font-size="11.2" fill="#111" text-anchor="middle" stroke="#111" stroke-width="0.22">0.8</text>
<line x1="609.9" x2="609.9" y1="330.3" y2="337.7" stroke="#4d4d4d" stroke-width="0.9"/>
<text x="609.9" y="351.3" font-size="11.2" fill="#111" text-anchor="middle" stroke="#111" stroke-width="0.22">1.0</text>
<line x1="651.2" x2="651.2" y1="330.3" y2="337.7" stroke="#4d4d4d" stroke-width="0.9"/>
<text x="651.2" y="351.3" font-size="11.2" fill="#111" text-anchor="middle" stroke="#111" stroke-width="0.22">1.2</text>
<text x="527.5" y="367.3" font-size="11" fill="#111" text-anchor="middle" stroke="#111" stroke-width="0.22">Aspect ratio</text>
<text x="366" y="269" font-size="11" fill="#111" text-anchor="middle" transform="rotate(-90 366 269)" stroke="#111" stroke-width="0.22">Density</text>
<rect x="415" y="213.0" width="8.8" height="6.2" fill="#d24aa8" stroke="#c2359a" stroke-width="0.8"/>
<text x="430.0" y="220.0" font-size="10.7" fill="#111" stroke="#111" stroke-width="0.22">(–)SC + dCas9</text>
<rect x="415" y="228.4" width="8.8" height="6.2" fill="#4a64b4" stroke="#3551a4" stroke-width="0.8"/>
<text x="430.0" y="235.4" font-size="10.7" fill="#111" stroke="#111" stroke-width="0.22">Relaxed</text>
<rect x="415" y="243.8" width="8.8" height="6.2" fill="#dda040" stroke="#d2943c" stroke-width="0.8"/>
<text x="430.0" y="250.8" font-size="10.7" fill="#111" stroke="#111" stroke-width="0.22">(–)SC</text>
<rect x="0" y="404" width="11.8" height="198.5" fill="url(#cbar)"/>
<rect x="15.05" y="397.75" width="65.95" height="65.60" fill="#000"/>
<rect x="84.10" y="397.75" width="66.20" height="65.60" fill="#000"/>
<rect x="154.10" y="397.75" width="66.50" height="65.60" fill="#000"/>
<rect x="154.10" y="467.00" width="66.50" height="65.75" fill="#000"/>
<rect x="154.10" y="536.05" width="66.50" height="66.20" fill="#000"/>
<rect x="15.05" y="467.00" width="135.25" height="135.25" fill="#000"/>
<rect x="246.80" y="397.75" width="66.20" height="65.60" fill="#000"/>
<rect x="317.20" y="397.75" width="66.10" height="65.60" fill="#000"/>
<rect x="387.00" y="397.75" width="66.00" height="65.60" fill="#000"/>
<rect x="387.00" y="467.00" width="66.00" height="65.75" fill="#000"/>
<rect x="387.00" y="536.05" width="66.00" height="66.20" fill="#000"/>
<rect x="246.80" y="467.00" width="136.50" height="135.25" fill="#000"/>
<rect x="476.00" y="397.75" width="66.20" height="65.60" fill="#000"/>
<rect x="546.10" y="397.75" width="66.20" height="65.60" fill="#000"/>
<rect x="615.80" y="397.75" width="66.30" height="65.60" fill="#000"/>
<rect x="615.80" y="467.00" width="66.30" height="65.75" fill="#000"/>
<rect x="615.80" y="536.05" width="66.30" height="66.20" fill="#000"/>
<rect x="476.00" y="467.00" width="136.30" height="135.25" fill="#000"/>
<clipPath id="cp1"><rect x="15.1" y="397.8" width="66.0" height="65.6"/></clipPath>
<g clip-path="url(#cp1)"><g filter="url(#afm)">
<path d="M47.04 418.87C49.78 419.08 53.57 421.11 55.83 423.01C58.09 424.91 60.22 427.66 60.60 430.29C60.97 432.93 60.14 436.93 58.09 438.83C56.03 440.73 51.24 441.93 48.29 441.72C45.34 441.51 42.37 439.69 40.38 437.57C38.40 435.46 36.53 431.67 36.37 429.04C36.20 426.40 37.60 423.45 39.38 421.76C41.16 420.06 44.30 418.66 47.04 418.87Z" fill="none" stroke="#5a2408" stroke-width="9.12" stroke-linejoin="round" stroke-linecap="round" opacity="0.90"/>
<path d="M47.04 418.87C49.78 419.08 53.57 421.11 55.83 423.01C58.09 424.91 60.22 427.66 60.60 430.29C60.97 432.93 60.14 436.93 58.09 438.83C56.03 440.73 51.24 441.93 48.29 441.72C45.34 441.51 42.37 439.69 40.38 437.57C38.40 435.46 36.53 431.67 36.37 429.04C36.20 426.40 37.60 423.45 39.38 421.76C41.16 420.06 44.30 418.66 47.04 418.87Z" fill="none" stroke="#a8641f" stroke-width="6.88" stroke-linejoin="round" stroke-linecap="round" opacity="1.00"/>
<path d="M47.04 418.87C49.78 419.08 53.57 421.11 55.83 423.01C58.09 424.91 60.22 427.66 60.60 430.29C60.97 432.93 60.14 436.93 58.09 438.83C56.03 440.73 51.24 441.93 48.29 441.72C45.34 441.51 42.37 439.69 40.38 437.57C38.40 435.46 36.53 431.67 36.37 429.04C36.20 426.40 37.60 423.45 39.38 421.76C41.16 420.06 44.30 418.66 47.04 418.87Z" fill="none" stroke="#cb9149" stroke-width="3.78" stroke-linejoin="round" stroke-linecap="round" opacity="0.85"/>
<path d="M47.04 418.87C49.78 419.08 53.57 421.11 55.83 423.01C58.09 424.91 60.22 427.66 60.60 430.29C60.97 432.93 60.14 436.93 58.09 438.83C56.03 440.73 51.24 441.93 48.29 441.72C45.34 441.51 42.37 439.69 40.38 437.57C38.40 435.46 36.53 431.67 36.37 429.04C36.20 426.40 37.60 423.45 39.38 421.76C41.16 420.06 44.30 418.66 47.04 418.87Z" fill="none" stroke="#ecc890" stroke-width="1.38" stroke-linejoin="round" stroke-linecap="round" opacity="0.40"/>
<ellipse cx="82.1" cy="440.3" rx="5.5" ry="11.0" fill="#5a2408"/>
<ellipse cx="82.1" cy="440.3" rx="4.1" ry="8.2" fill="#a8641f"/>
<ellipse cx="82.1" cy="440.3" rx="2.5" ry="5.0" fill="#cb9149"/>
</g></g>
<clipPath id="cp2"><rect x="84.1" y="397.8" width="66.2" height="65.6"/></clipPath>
<g clip-path="url(#cp2)"><g filter="url(#afm)">
<path d="M121.68 417.99C124.03 418.66 125.87 422.91 126.45 425.90C127.04 428.89 126.50 433.05 125.20 435.94C123.90 438.83 121.03 442.53 118.67 443.22C116.30 443.91 112.68 442.14 111.01 440.09C109.34 438.03 108.40 433.95 108.63 430.92C108.86 427.89 110.22 424.04 112.39 421.88C114.57 419.73 119.34 417.32 121.68 417.99Z" fill="none" stroke="#5a2408" stroke-width="8.69" stroke-linejoin="round" stroke-linecap="round" opacity="0.90"/>
<path d="M121.68 417.99C124.03 418.66 125.87 422.91 126.45 425.90C127.04 428.89 126.50 433.05 125.20 435.94C123.90 438.83 121.03 442.53 118.67 443.22C116.30 443.91 112.68 442.14 111.01 440.09C109.34 438.03 108.40 433.95 108.63 430.92C108.86 427.89 110.22 424.04 112.39 421.88C114.57 419.73 119.34 417.32 121.68 417.99Z" fill="none" stroke="#a8641f" stroke-width="6.56" stroke-linejoin="round" stroke-linecap="round" opacity="1.00"/>
<path d="M121.68 417.99C124.03 418.66 125.87 422.91 126.45 425.90C127.04 428.89 126.50 433.05 125.20 435.94C123.90 438.83 121.03 442.53 118.67 443.22C116.30 443.91 112.68 442.14 111.01 440.09C109.34 438.03 108.40 433.95 108.63 430.92C108.86 427.89 110.22 424.04 112.39 421.88C114.57 419.73 119.34 417.32 121.68 417.99Z" fill="none" stroke="#cb9149" stroke-width="3.61" stroke-linejoin="round" stroke-linecap="round" opacity="0.85"/>
<path d="M121.68 417.99C124.03 418.66 125.87 422.91 126.45 425.90C127.04 428.89 126.50 433.05 125.20 435.94C123.90 438.83 121.03 442.53 118.67 443.22C116.30 443.91 112.68 442.14 111.01 440.09C109.34 438.03 108.40 433.95 108.63 430.92C108.86 427.89 110.22 424.04 112.39 421.88C114.57 419.73 119.34 417.32 121.68 417.99Z" fill="none" stroke="#ecc890" stroke-width="1.31" stroke-linejoin="round" stroke-linecap="round" opacity="0.40"/>
<ellipse cx="114.5" cy="463.1" rx="13.0" ry="6.5" fill="#5a2408"/>
<ellipse cx="114.5" cy="463.1" rx="9.8" ry="4.9" fill="#a8641f"/>
<ellipse cx="114.5" cy="463.1" rx="5.9" ry="2.9" fill="#cb9149"/>
</g></g>
<clipPath id="cp3"><rect x="154.1" y="397.8" width="66.5" height="65.6"/></clipPath>
<g clip-path="url(#cp3)"><g filter="url(#afm)">
<ellipse cx="186.7" cy="398.5" rx="8.0" ry="12.0" fill="none" stroke="#5a2408" stroke-width="8.48" opacity="0.90"/>
<ellipse cx="186.7" cy="398.5" rx="8.0" ry="12.0" fill="none" stroke="#a8641f" stroke-width="6.40" opacity="1.00"/>
<ellipse cx="186.7" cy="398.5" rx="8.0" ry="12.0" fill="none" stroke="#cb9149" stroke-width="3.52" opacity="0.85"/>
<ellipse cx="186.7" cy="398.5" rx="8.0" ry="12.0" fill="none" stroke="#ecc890" stroke-width="1.28" opacity="0.40"/>
<ellipse cx="187.3" cy="435.4" rx="13.2" ry="7.8" fill="none" stroke="#5a2408" stroke-width="9.12" opacity="0.90"/>
<ellipse cx="187.3" cy="435.4" rx="13.2" ry="7.8" fill="none" stroke="#a8641f" stroke-width="6.88" opacity="1.00"/>
<ellipse cx="187.3" cy="435.4" rx="13.2" ry="7.8" fill="none" stroke="#cb9149" stroke-width="3.78" opacity="0.85"/>
<ellipse cx="187.3" cy="435.4" rx="13.2" ry="7.8" fill="none" stroke="#ecc890" stroke-width="1.38" opacity="0.40"/>
</g></g>
<clipPath id="cp4"><rect x="154.1" y="467.0" width="66.5" height="65.8"/></clipPath>
<g clip-path="url(#cp4)"><g filter="url(#afm)">
<ellipse cx="184.5" cy="503.1" rx="11.6" ry="10.8" fill="none" stroke="#5a2408" stroke-width="8.90" opacity="0.90"/>
<ellipse cx="184.5" cy="503.1" rx="11.6" ry="10.8" fill="none" stroke="#a8641f" stroke-width="6.72" opacity="1.00"/>
<ellipse cx="184.5" cy="503.1" rx="11.6" ry="10.8" fill="none" stroke="#cb9149" stroke-width="3.70" opacity="0.85"/>
<ellipse cx="184.5" cy="503.1" rx="11.6" ry="10.8" fill="none" stroke="#ecc890" stroke-width="1.34" opacity="0.40"/>
<ellipse cx="204.6" cy="467.6" rx="8.5" ry="6.5" fill="#5a2408"/>
<ellipse cx="204.6" cy="467.6" rx="6.4" ry="4.9" fill="#a8641f"/>
<ellipse cx="204.6" cy="467.6" rx="3.8" ry="2.9" fill="#cb9149"/>
<ellipse cx="190.4" cy="532.3" rx="9.0" ry="5.0" fill="#5a2408"/>
<ellipse cx="190.4" cy="532.3" rx="6.8" ry="3.8" fill="#a8641f"/>
<ellipse cx="190.4" cy="532.3" rx="4.0" ry="2.2" fill="#cb9149"/>
</g></g>
<clipPath id="cp5"><rect x="154.1" y="536.0" width="66.5" height="66.2"/></clipPath>
<g clip-path="url(#cp5)"><g filter="url(#afm)">
<path d="M194.19 557.87C196.22 558.83 198.59 562.73 199.22 565.40C199.84 568.08 199.47 571.43 197.96 573.94C196.45 576.45 193.11 579.59 190.18 580.47C187.25 581.35 182.81 580.72 180.38 579.22C177.96 577.71 175.74 574.03 175.61 571.43C175.49 568.84 177.73 565.61 179.63 563.65C181.53 561.68 184.61 560.59 187.04 559.63C189.46 558.67 192.16 556.91 194.19 557.87Z" fill="none" stroke="#5a2408" stroke-width="8.90" stroke-linejoin="round" stroke-linecap="round" opacity="0.90"/>
<path d="M194.19 557.87C196.22 558.83 198.59 562.73 199.22 565.40C199.84 568.08 199.47 571.43 197.96 573.94C196.45 576.45 193.11 579.59 190.18 580.47C187.25 581.35 182.81 580.72 180.38 579.22C177.96 577.71 175.74 574.03 175.61 571.43C175.49 568.84 177.73 565.61 179.63 563.65C181.53 561.68 184.61 560.59 187.04 559.63C189.46 558.67 192.16 556.91 194.19 557.87Z" fill="none" stroke="#a8641f" stroke-width="6.72" stroke-linejoin="round" stroke-linecap="round" opacity="1.00"/>
<path d="M194.19 557.87C196.22 558.83 198.59 562.73 199.22 565.40C199.84 568.08 199.47 571.43 197.96 573.94C196.45 576.45 193.11 579.59 190.18 580.47C187.25 581.35 182.81 580.72 180.38 579.22C177.96 577.71 175.74 574.03 175.61 571.43C175.49 568.84 177.73 565.61 179.63 563.65C181.53 561.68 184.61 560.59 187.04 559.63C189.46 558.67 192.16 556.91 194.19 557.87Z" fill="none" stroke="#cb9149" stroke-width="3.70" stroke-linejoin="round" stroke-linecap="round" opacity="0.85"/>
<path d="M194.19 557.87C196.22 558.83 198.59 562.73 199.22 565.40C199.84 568.08 199.47 571.43 197.96 573.94C196.45 576.45 193.11 579.59 190.18 580.47C187.25 581.35 182.81 580.72 180.38 579.22C177.96 577.71 175.74 574.03 175.61 571.43C175.49 568.84 177.73 565.61 179.63 563.65C181.53 561.68 184.61 560.59 187.04 559.63C189.46 558.67 192.16 556.91 194.19 557.87Z" fill="none" stroke="#ecc890" stroke-width="1.34" stroke-linejoin="round" stroke-linecap="round" opacity="0.40"/>
</g></g>
<clipPath id="cp6"><rect x="246.8" y="397.8" width="66.2" height="65.6"/></clipPath>
<g clip-path="url(#cp6)"><g filter="url(#afm)">
<rect x="260.4" y="422.1" width="39.0" height="16.6" rx="8.1" ry="8.3" fill="#5a2408" opacity="0.90" transform="rotate(36 279.9 430.4)"/>
<rect x="261.6" y="423.3" width="36.7" height="14.3" rx="7.0" ry="7.1" fill="#a8641f" opacity="1.00" transform="rotate(36 279.9 430.4)"/>
<rect x="263.6" y="425.3" width="32.7" height="10.3" rx="5.0" ry="5.1" fill="#cb9149" opacity="0.85" transform="rotate(36 279.9 430.4)"/>
<rect x="266.2" y="427.9" width="27.4" height="5.0" rx="2.4" ry="2.5" fill="#ecc890" opacity="0.45" transform="rotate(36 279.9 430.4)"/>
</g></g>
<clipPath id="cp7"><rect x="317.2" y="397.8" width="66.1" height="65.6"/></clipPath>
<g clip-path="url(#cp7)"><g filter="url(#afm)">
<rect x="330.9" y="422.9" width="38.0" height="17.2" rx="8.4" ry="8.6" fill="#5a2408" opacity="0.90" transform="rotate(-62 349.9 431.5)"/>
<rect x="332.1" y="424.2" width="35.6" height="14.8" rx="7.2" ry="7.4" fill="#a8641f" opacity="1.00" transform="rotate(-62 349.9 431.5)"/>
<rect x="334.2" y="426.2" width="31.5" height="10.7" rx="5.2" ry="5.3" fill="#cb9149" opacity="0.85" transform="rotate(-62 349.9 431.5)"/>
<rect x="336.9" y="429.0" width="26.0" height="5.2" rx="2.5" ry="2.6" fill="#ecc890" opacity="0.45" transform="rotate(-62 349.9 431.5)"/>
<ellipse cx="381.1" cy="438.7" rx="8.6" ry="9.4" fill="none" stroke="#5a2408" stroke-width="8.27" opacity="0.90"/>
<ellipse cx="381.1" cy="438.7" rx="8.6" ry="9.4" fill="none" stroke="#a8641f" stroke-width="6.24" opacity="1.00"/>
<ellipse cx="381.1" cy="438.7" rx="8.6" ry="9.4" fill="none" stroke="#cb9149" stroke-width="3.43" opacity="0.85"/>
<ellipse cx="381.1" cy="438.7" rx="8.6" ry="9.4" fill="none" stroke="#ecc890" stroke-width="1.25" opacity="0.40"/>
</g></g>
<clipPath id="cp8"><rect x="387.0" y="397.8" width="66.0" height="65.6"/></clipPath>
<g clip-path="url(#cp8)"><g filter="url(#afm)">
<path d="M406.48 431.17C407.70 430.33 411.19 429.58 413.39 428.66C415.58 427.74 417.57 426.40 419.66 425.65C421.76 424.89 423.54 424.14 425.94 424.14C428.35 424.14 432.68 424.77 434.10 425.65C435.53 426.53 435.42 428.58 434.48 429.41C433.54 430.25 430.50 430.29 428.45 430.67C426.40 431.05 424.37 431.05 422.18 431.67C419.98 432.30 417.57 433.72 415.27 434.44C412.97 435.15 409.89 436.07 408.37 435.94C406.84 435.82 406.42 434.48 406.11 433.68C405.79 432.89 405.27 432.01 406.48 431.17Z" fill="none" stroke="#5a2408" stroke-width="4.66" stroke-linejoin="round" stroke-linecap="round" opacity="0.90"/>
<path d="M406.48 431.17C407.70 430.33 411.19 429.58 413.39 428.66C415.58 427.74 417.57 426.40 419.66 425.65C421.76 424.89 423.54 424.14 425.94 424.14C428.35 424.14 432.68 424.77 434.10 425.65C435.53 426.53 435.42 428.58 434.48 429.41C433.54 430.25 430.50 430.29 428.45 430.67C426.40 431.05 424.37 431.05 422.18 431.67C419.98 432.30 417.57 433.72 415.27 434.44C412.97 435.15 409.89 436.07 408.37 435.94C406.84 435.82 406.42 434.48 406.11 433.68C405.79 432.89 405.27 432.01 406.48 431.17Z" fill="none" stroke="#a8641f" stroke-width="3.52" stroke-linejoin="round" stroke-linecap="round" opacity="1.00"/>
<path d="M406.48 431.17C407.70 430.33 411.19 429.58 413.39 428.66C415.58 427.74 417.57 426.40 419.66 425.65C421.76 424.89 423.54 424.14 425.94 424.14C428.35 424.14 432.68 424.77 434.10 425.65C435.53 426.53 435.42 428.58 434.48 429.41C433.54 430.25 430.50 430.29 428.45 430.67C426.40 431.05 424.37 431.05 422.18 431.67C419.98 432.30 417.57 433.72 415.27 434.44C412.97 435.15 409.89 436.07 408.37 435.94C406.84 435.82 406.42 434.48 406.11 433.68C405.79 432.89 405.27 432.01 406.48 431.17Z" fill="none" stroke="#cb9149" stroke-width="1.94" stroke-linejoin="round" stroke-linecap="round" opacity="0.77"/>
<path d="M406.48 431.17C407.70 430.33 411.19 429.58 413.39 428.66C415.58 427.74 417.57 426.40 419.66 425.65C421.76 424.89 423.54 424.14 425.94 424.14C428.35 424.14 432.68 424.77 434.10 425.65C435.53 426.53 435.42 428.58 434.48 429.41C433.54 430.25 430.50 430.29 428.45 430.67C426.40 431.05 424.37 431.05 422.18 431.67C419.98 432.30 417.57 433.72 415.27 434.44C412.97 435.15 409.89 436.07 408.37 435.94C406.84 435.82 406.42 434.48 406.11 433.68C405.79 432.89 405.27 432.01 406.48 431.17Z" fill="none" stroke="#ecc890" stroke-width="0.70" stroke-linejoin="round" stroke-linecap="round" opacity="0.36"/>
</g></g>
<clipPath id="cp9"><rect x="387.0" y="467.0" width="66.0" height="65.8"/></clipPath>
<g clip-path="url(#cp9)"><g filter="url(#afm)">
<path d="M409.59 504.67C410.06 503.51 412.14 501.46 414.00 500.03C415.86 498.60 418.33 497.29 420.72 496.09C423.12 494.89 426.06 493.30 428.38 492.84C430.70 492.38 433.40 492.69 434.64 493.30C435.87 493.92 436.42 495.70 435.80 496.55C435.18 497.40 432.94 497.59 430.93 498.41C428.92 499.22 426.14 500.34 423.74 501.42C421.34 502.50 418.64 503.97 416.55 504.90C414.46 505.83 412.38 507.02 411.22 506.99C410.06 506.95 409.13 505.83 409.59 504.67Z" fill="#a8641f" stroke="#5a2408" stroke-width="6.2" stroke-linejoin="round"/>
<path d="M409.59 504.67C410.06 503.51 412.14 501.46 414.00 500.03C415.86 498.60 418.33 497.29 420.72 496.09C423.12 494.89 426.06 493.30 428.38 492.84C430.70 492.38 433.40 492.69 434.64 493.30C435.87 493.92 436.42 495.70 435.80 496.55C435.18 497.40 432.94 497.59 430.93 498.41C428.92 499.22 426.14 500.34 423.74 501.42C421.34 502.50 418.64 503.97 416.55 504.90C414.46 505.83 412.38 507.02 411.22 506.99C410.06 506.95 409.13 505.83 409.59 504.67Z" fill="none" stroke="#5a2408" stroke-width="4.77" stroke-linejoin="round" stroke-linecap="round" opacity="0.90"/>
<path d="M409.59 504.67C410.06 503.51 412.14 501.46 414.00 500.03C415.86 498.60 418.33 497.29 420.72 496.09C423.12 494.89 426.06 493.30 428.38 492.84C430.70 492.38 433.40 492.69 434.64 493.30C435.87 493.92 436.42 495.70 435.80 496.55C435.18 497.40 432.94 497.59 430.93 498.41C428.92 499.22 426.14 500.34 423.74 501.42C421.34 502.50 418.64 503.97 416.55 504.90C414.46 505.83 412.38 507.02 411.22 506.99C410.06 506.95 409.13 505.83 409.59 504.67Z" fill="none" stroke="#a8641f" stroke-width="3.60" stroke-linejoin="round" stroke-linecap="round" opacity="1.00"/>
<path d="M409.59 504.67C410.06 503.51 412.14 501.46 414.00 500.03C415.86 498.60 418.33 497.29 420.72 496.09C423.12 494.89 426.06 493.30 428.38 492.84C430.70 492.38 433.40 492.69 434.64 493.30C435.87 493.92 436.42 495.70 435.80 496.55C435.18 497.40 432.94 497.59 430.93 498.41C428.92 499.22 426.14 500.34 423.74 501.42C421.34 502.50 418.64 503.97 416.55 504.90C414.46 505.83 412.38 507.02 411.22 506.99C410.06 506.95 409.13 505.83 409.59 504.67Z" fill="none" stroke="#cb9149" stroke-width="1.98" stroke-linejoin="round" stroke-linecap="round" opacity="1.00"/>
<path d="M409.59 504.67C410.06 503.51 412.14 501.46 414.00 500.03C415.86 498.60 418.33 497.29 420.72 496.09C423.12 494.89 426.06 493.30 428.38 492.84C430.70 492.38 433.40 492.69 434.64 493.30C435.87 493.92 436.42 495.70 435.80 496.55C435.18 497.40 432.94 497.59 430.93 498.41C428.92 499.22 426.14 500.34 423.74 501.42C421.34 502.50 418.64 503.97 416.55 504.90C414.46 505.83 412.38 507.02 411.22 506.99C410.06 506.95 409.13 505.83 409.59 504.67Z" fill="none" stroke="#ecc890" stroke-width="0.72" stroke-linejoin="round" stroke-linecap="round" opacity="0.68"/>
<ellipse cx="383.4" cy="528.8" rx="10.5" ry="11.5" fill="none" stroke="#5a2408" stroke-width="7.63" opacity="0.90"/>
<ellipse cx="383.4" cy="528.8" rx="10.5" ry="11.5" fill="none" stroke="#a8641f" stroke-width="5.76" opacity="1.00"/>
<ellipse cx="383.4" cy="528.8" rx="10.5" ry="11.5" fill="none" stroke="#cb9149" stroke-width="3.17" opacity="0.85"/>
<ellipse cx="383.4" cy="528.8" rx="10.5" ry="11.5" fill="none" stroke="#ecc890" stroke-width="1.15" opacity="0.40"/>
</g></g>
<clipPath id="cp10"><rect x="387.0" y="536.0" width="66.0" height="66.2"/></clipPath>
<g clip-path="url(#cp10)"><g filter="url(#afm)">
<path d="M407.74 562.87C408.51 561.86 410.10 560.78 411.91 561.01C413.73 561.25 416.28 562.99 418.64 564.26C421.00 565.54 423.66 567.35 426.06 568.67C428.45 569.98 431.93 570.91 433.01 572.14C434.10 573.38 433.52 575.24 432.55 576.09C431.58 576.94 429.46 577.48 427.22 577.25C424.98 577.01 421.73 575.66 419.10 574.70C416.47 573.73 413.42 572.72 411.45 571.45C409.48 570.17 407.89 568.47 407.28 567.04C406.66 565.61 406.97 563.87 407.74 562.87Z" fill="#6a3410" stroke="#5a2408" stroke-width="6.2" stroke-linejoin="round"/>
<path d="M407.74 562.87C408.51 561.86 410.10 560.78 411.91 561.01C413.73 561.25 416.28 562.99 418.64 564.26C421.00 565.54 423.66 567.35 426.06 568.67C428.45 569.98 431.93 570.91 433.01 572.14C434.10 573.38 433.52 575.24 432.55 576.09C431.58 576.94 429.46 577.48 427.22 577.25C424.98 577.01 421.73 575.66 419.10 574.70C416.47 573.73 413.42 572.72 411.45 571.45C409.48 570.17 407.89 568.47 407.28 567.04C406.66 565.61 406.97 563.87 407.74 562.87Z" fill="none" stroke="#5a2408" stroke-width="4.77" stroke-linejoin="round" stroke-linecap="round" opacity="0.90"/>
<path d="M407.74 562.87C408.51 561.86 410.10 560.78 411.91 561.01C413.73 561.25 416.28 562.99 418.64 564.26C421.00 565.54 423.66 567.35 426.06 568.67C428.45 569.98 431.93 570.91 433.01 572.14C434.10 573.38 433.52 575.24 432.55 576.09C431.58 576.94 429.46 577.48 427.22 577.25C424.98 577.01 421.73 575.66 419.10 574.70C416.47 573.73 413.42 572.72 411.45 571.45C409.48 570.17 407.89 568.47 407.28 567.04C406.66 565.61 406.97 563.87 407.74 562.87Z" fill="none" stroke="#a8641f" stroke-width="3.60" stroke-linejoin="round" stroke-linecap="round" opacity="1.00"/>
<path d="M407.74 562.87C408.51 561.86 410.10 560.78 411.91 561.01C413.73 561.25 416.28 562.99 418.64 564.26C421.00 565.54 423.66 567.35 426.06 568.67C428.45 569.98 431.93 570.91 433.01 572.14C434.10 573.38 433.52 575.24 432.55 576.09C431.58 576.94 429.46 577.48 427.22 577.25C424.98 577.01 421.73 575.66 419.10 574.70C416.47 573.73 413.42 572.72 411.45 571.45C409.48 570.17 407.89 568.47 407.28 567.04C406.66 565.61 406.97 563.87 407.74 562.87Z" fill="none" stroke="#cb9149" stroke-width="1.98" stroke-linejoin="round" stroke-linecap="round" opacity="1.00"/>
<path d="M407.74 562.87C408.51 561.86 410.10 560.78 411.91 561.01C413.73 561.25 416.28 562.99 418.64 564.26C421.00 565.54 423.66 567.35 426.06 568.67C428.45 569.98 431.93 570.91 433.01 572.14C434.10 573.38 433.52 575.24 432.55 576.09C431.58 576.94 429.46 577.48 427.22 577.25C424.98 577.01 421.73 575.66 419.10 574.70C416.47 573.73 413.42 572.72 411.45 571.45C409.48 570.17 407.89 568.47 407.28 567.04C406.66 565.61 406.97 563.87 407.74 562.87Z" fill="none" stroke="#ecc890" stroke-width="0.72" stroke-linejoin="round" stroke-linecap="round" opacity="0.68"/>
<ellipse cx="414.5" cy="567.7" rx="2.6" ry="1.8" fill="#2a0e02" opacity="0.9" transform="rotate(25 414.5 567.7)"/>
</g></g>
<clipPath id="cp11"><rect x="476.0" y="397.8" width="66.2" height="65.6"/></clipPath>
<g clip-path="url(#cp11)"><g filter="url(#afm)">
<ellipse cx="507.7" cy="425.1" rx="10.2" ry="11.4" fill="none" stroke="#5a2408" stroke-width="9.54" opacity="0.90"/>
<ellipse cx="507.7" cy="425.1" rx="10.2" ry="11.4" fill="none" stroke="#a8641f" stroke-width="7.20" opacity="1.00"/>
<ellipse cx="507.7" cy="425.1" rx="10.2" ry="11.4" fill="none" stroke="#cb9149" stroke-width="3.96" opacity="0.51"/>
<ellipse cx="507.7" cy="425.1" rx="10.2" ry="11.4" fill="none" stroke="#ecc890" stroke-width="1.44" opacity="0.24"/>
<ellipse cx="511.4" cy="428.2" rx="3.2" ry="4.5" fill="#a8641f" opacity="1"/>
<ellipse cx="530.0" cy="439.7" rx="3.4" ry="4.8" fill="#a8641f" opacity="1" transform="rotate(20 530.0 439.7)"/>
<ellipse cx="482.9" cy="422.8" rx="4.5" ry="4.5" fill="#2a1004" opacity="0.9"/>
</g><g filter="url(#afmw)">
<rect x="499.7" y="434.1" width="23.2" height="17.2" rx="5.5" fill="#cb9149" opacity="0.7"/>
<rect x="500.3" y="434.7" width="22.0" height="16.0" rx="4.9" fill="#ecc890"/>
<rect x="501.3" y="435.7" width="20.0" height="14.0" rx="4.5" fill="#fff"/>
</g></g>
<clipPath id="cp12"><rect x="546.1" y="397.8" width="66.2" height="65.6"/></clipPath>
<g clip-path="url(#cp12)"><g filter="url(#afm)">
<ellipse cx="583.1" cy="434.1" rx="6.0" ry="9.0" fill="#3a1606" opacity="0.9"/>
<ellipse cx="584.1" cy="434.1" rx="8.4" ry="12.4" fill="none" stroke="#5a2408" stroke-width="9.33" opacity="0.90" transform="rotate(-6 584.1 434.1)"/>
<ellipse cx="584.1" cy="434.1" rx="8.4" ry="12.4" fill="none" stroke="#a8641f" stroke-width="7.04" opacity="1.00" transform="rotate(-6 584.1 434.1)"/>
<ellipse cx="584.1" cy="434.1" rx="8.4" ry="12.4" fill="none" stroke="#cb9149" stroke-width="3.87" opacity="0.51" transform="rotate(-6 584.1 434.1)"/>
<ellipse cx="584.1" cy="434.1" rx="8.4" ry="12.4" fill="none" stroke="#ecc890" stroke-width="1.41" opacity="0.24" transform="rotate(-6 584.1 434.1)"/>
<ellipse cx="572.4" cy="413.6" rx="4.0" ry="4.0" fill="#a8641f" opacity="1"/>
<ellipse cx="564.9" cy="453.5" rx="4.0" ry="4.0" fill="#2a1004" opacity="0.9"/>
<ellipse cx="597.5" cy="409.6" rx="3.0" ry="3.0" fill="#2a1004" opacity="0.9"/>
</g><g filter="url(#afmw)">
<rect x="562.3" y="416.0" width="15.6" height="14.8" rx="6.5" fill="#cb9149" opacity="0.7"/>
<rect x="562.9" y="416.6" width="14.4" height="13.6" rx="5.9" fill="#ecc890"/>
<rect x="563.9" y="417.6" width="12.4" height="11.6" rx="5.5" fill="#fff"/>
</g></g>
<clipPath id="cp13"><rect x="615.8" y="397.8" width="66.3" height="65.6"/></clipPath>
<g clip-path="url(#cp13)"><g filter="url(#afm3)">
<ellipse cx="663.6" cy="419.9" rx="6.0" ry="7.0" fill="#8a4a18" opacity="0.85"/>
<ellipse cx="675.4" cy="426.7" rx="6.5" ry="6.5" fill="#7a3c10" opacity="0.9"/>
<ellipse cx="673.8" cy="449.2" rx="4.0" ry="8.0" fill="#7a3c10" opacity="0.8"/>
<ellipse cx="656.4" cy="442.5" rx="3.0" ry="5.0" fill="#8a4a18" opacity="0.7"/>
<ellipse cx="668.4" cy="409.8" rx="6.0" ry="4.0" fill="#4a1c08" opacity="0.8"/>
<ellipse cx="619.3" cy="454.1" rx="1.5" ry="1.5" fill="#8a4a18" opacity="0.9"/>
</g><g filter="url(#afm)">
<ellipse cx="641.9" cy="439.9" rx="7.7" ry="8.6" fill="none" stroke="#5a2408" stroke-width="8.48" opacity="0.90"/>
<ellipse cx="641.9" cy="439.9" rx="7.7" ry="8.6" fill="none" stroke="#a8641f" stroke-width="6.40" opacity="1.00"/>
<ellipse cx="641.9" cy="439.9" rx="7.7" ry="8.6" fill="none" stroke="#cb9149" stroke-width="3.52" opacity="0.51"/>
<ellipse cx="641.9" cy="439.9" rx="7.7" ry="8.6" fill="none" stroke="#ecc890" stroke-width="1.28" opacity="0.24"/>
<ellipse cx="651.9" cy="412.2" rx="3.5" ry="3.5" fill="#cb9149" opacity="0.9"/>
</g><g filter="url(#afmw)">
<rect x="631.0" y="411.1" width="25.6" height="24.8" rx="10.5" fill="#cb9149" opacity="0.7"/>
<rect x="631.6" y="411.7" width="24.4" height="23.6" rx="9.9" fill="#ecc890"/>
<rect x="632.6" y="412.7" width="22.4" height="21.6" rx="9.5" fill="#fff"/>
</g></g>
<clipPath id="cp14"><rect x="615.8" y="467.0" width="66.3" height="65.8"/></clipPath>
<g clip-path="url(#cp14)"><g filter="url(#afm)">
<ellipse cx="646.2" cy="500.6" rx="11.2" ry="10.6" fill="none" stroke="#5a2408" stroke-width="9.33" opacity="0.90"/>
<ellipse cx="646.2" cy="500.6" rx="11.2" ry="10.6" fill="none" stroke="#a8641f" stroke-width="7.04" opacity="1.00"/>
<ellipse cx="646.2" cy="500.6" rx="11.2" ry="10.6" fill="none" stroke="#cb9149" stroke-width="3.87" opacity="0.47"/>
<ellipse cx="646.2" cy="500.6" rx="11.2" ry="10.6" fill="none" stroke="#ecc890" stroke-width="1.41" opacity="0.22"/>
</g><g filter="url(#afmw)">
<rect x="640.7" y="490.4" width="25.8" height="25.2" rx="11.5" fill="#cb9149" opacity="0.7"/>
<rect x="641.3" y="491.0" width="24.6" height="24.0" rx="10.9" fill="#ecc890"/>
<rect x="642.3" y="492.0" width="22.6" height="22.0" rx="10.5" fill="#fff"/>
</g></g>
<clipPath id="cp15"><rect x="615.8" y="536.0" width="66.3" height="66.2"/></clipPath>
<g clip-path="url(#cp15)"><g filter="url(#afm)">
<ellipse cx="653.5" cy="566.1" rx="8.8" ry="9.2" fill="none" stroke="#5a2408" stroke-width="9.33" opacity="0.90"/>
<ellipse cx="653.5" cy="566.1" rx="8.8" ry="9.2" fill="none" stroke="#a8641f" stroke-width="7.04" opacity="1.00"/>
<ellipse cx="653.5" cy="566.1" rx="8.8" ry="9.2" fill="none" stroke="#cb9149" stroke-width="3.87" opacity="0.47"/>
<ellipse cx="653.5" cy="566.1" rx="8.8" ry="9.2" fill="none" stroke="#ecc890" stroke-width="1.41" opacity="0.22"/>
</g><g filter="url(#afmw)">
<rect x="631.8" y="561.4" width="22.0" height="26.0" rx="9.0" fill="#cb9149" opacity="0.7" transform="rotate(12 642.8 574.4)"/>
<rect x="632.4" y="562.0" width="20.8" height="24.8" rx="8.4" fill="#ecc890" transform="rotate(12 642.8 574.4)"/>
<rect x="633.4" y="563.0" width="18.8" height="22.8" rx="8.0" fill="#fff" transform="rotate(12 642.8 574.4)"/>
</g></g>
<clipPath id="cp16"><rect x="15.1" y="467.0" width="135.2" height="135.2"/></clipPath>
<g clip-path="url(#cp16)"><g filter="url(#afm2)">
<ellipse cx="94.2" cy="486.3" rx="3.55" ry="2.75" fill="#7a3a10" fill-opacity="0.35" stroke="#c4742a" stroke-width="1.25" transform="rotate(30 94.2 486.3)"/>
<ellipse cx="20.6" cy="505.9" rx="3.35" ry="3.15" fill="#7a3a10" fill-opacity="0.35" stroke="#c4742a" stroke-width="1.25"/>
<ellipse cx="116.1" cy="505.4" rx="2.55" ry="3.75" fill="#7a3a10" fill-opacity="0.35" stroke="#c4742a" stroke-width="1.25" transform="rotate(35 116.1 505.4)"/>
<ellipse cx="20.1" cy="555.3" rx="3.15" ry="3.35" fill="#7a3a10" fill-opacity="0.35" stroke="#c4742a" stroke-width="1.25"/>
<ellipse cx="93.5" cy="552.5" rx="2.25" ry="4.05" fill="#7a3a10" fill-opacity="0.35" stroke="#c4742a" stroke-width="1.25" transform="rotate(15 93.5 552.5)"/>
<ellipse cx="18.1" cy="570.2" rx="3.15" ry="2.35" fill="#7a3a10" fill-opacity="0.35" stroke="#c4742a" stroke-width="1.25" transform="rotate(30 18.1 570.2)"/>
<ellipse cx="50.3" cy="579.5" rx="3.05" ry="3.45" fill="#7a3a10" fill-opacity="0.35" stroke="#c4742a" stroke-width="1.25"/>
<ellipse cx="61.6" cy="579.5" rx="2.65" ry="3.55" fill="#7a3a10" fill-opacity="0.35" stroke="#c4742a" stroke-width="1.25" transform="rotate(-15 61.6 579.5)"/>
<ellipse cx="117.6" cy="591.6" rx="3.15" ry="3.15" fill="#7a3a10" fill-opacity="0.35" stroke="#c4742a" stroke-width="1.25" transform="rotate(20 117.6 591.6)"/>
<ellipse cx="42.7" cy="467.2" rx="2.5" ry="1.6" fill="#c8822e" opacity="1"/>
</g></g>
<clipPath id="cp17"><rect x="246.8" y="467.0" width="136.5" height="135.2"/></clipPath>
<g clip-path="url(#cp17)"><g filter="url(#afm2)">
<ellipse cx="327.6" cy="478.8" rx="2.05" ry="3.75" fill="#7a3a10" fill-opacity="0.35" stroke="#c4742a" stroke-width="1.25" transform="rotate(25 327.6 478.8)"/>
<ellipse cx="357.3" cy="480.0" rx="1.85" ry="3.95" fill="#7a3a10" fill-opacity="0.35" stroke="#c4742a" stroke-width="1.25" transform="rotate(30 357.3 480.0)"/>
<ellipse cx="366.6" cy="483.8" rx="1.85" ry="3.75" fill="#7a3a10" fill-opacity="0.35" stroke="#c4742a" stroke-width="1.25" transform="rotate(-30 366.6 483.8)"/>
<ellipse cx="359.8" cy="490.8" rx="3.55" ry="1.75" fill="#7a3a10" fill-opacity="0.35" stroke="#c4742a" stroke-width="1.25" transform="rotate(15 359.8 490.8)"/>
<ellipse cx="346.5" cy="501.4" rx="2.05" ry="3.75" fill="#7a3a10" fill-opacity="0.35" stroke="#c4742a" stroke-width="1.25" transform="rotate(-40 346.5 501.4)"/>
<ellipse cx="324.6" cy="505.7" rx="3.55" ry="1.95" fill="#7a3a10" fill-opacity="0.35" stroke="#c4742a" stroke-width="1.25" transform="rotate(-20 324.6 505.7)"/>
<ellipse cx="315.1" cy="532.8" rx="1.85" ry="4.05" fill="#7a3a10" fill-opacity="0.35" stroke="#c4742a" stroke-width="1.25" transform="rotate(-8 315.1 532.8)"/>
<ellipse cx="361.6" cy="565.5" rx="2.15" ry="3.95" fill="#7a3a10" fill-opacity="0.35" stroke="#c4742a" stroke-width="1.25" transform="rotate(5 361.6 565.5)"/>
<ellipse cx="263.6" cy="581.5" rx="2.15" ry="3.45" fill="#7a3a10" fill-opacity="0.35" stroke="#c4742a" stroke-width="1.25" transform="rotate(-10 263.6 581.5)"/>
<ellipse cx="277.7" cy="581.0" rx="2.95" ry="2.05" fill="#7a3a10" fill-opacity="0.35" stroke="#c4742a" stroke-width="1.25" transform="rotate(20 277.7 581.0)"/>
<ellipse cx="273.4" cy="589.2" rx="3.15" ry="1.45" fill="#7a3a10" fill-opacity="0.35" stroke="#c4742a" stroke-width="1.25" transform="rotate(30 273.4 589.2)"/>
<ellipse cx="247.6" cy="600.6" rx="2.65" ry="1.95" fill="#7a3a10" fill-opacity="0.35" stroke="#c4742a" stroke-width="1.25"/>
</g></g>
<clipPath id="cp18"><rect x="476.0" y="467.0" width="136.3" height="135.2"/></clipPath>
<g clip-path="url(#cp18)"><g filter="url(#afm2)">
<ellipse cx="556.6" cy="479.0" rx="2.05" ry="3.75" fill="#7a3a10" fill-opacity="0.35" stroke="#c4742a" stroke-width="1.25" transform="rotate(25 556.6 479.0)"/>
<ellipse cx="586.3" cy="480.2" rx="1.85" ry="3.95" fill="#7a3a10" fill-opacity="0.35" stroke="#c4742a" stroke-width="1.25" transform="rotate(30 586.3 480.2)"/>
<ellipse cx="595.6" cy="484.0" rx="1.85" ry="3.75" fill="#7a3a10" fill-opacity="0.35" stroke="#c4742a" stroke-width="1.25" transform="rotate(-30 595.6 484.0)"/>
<ellipse cx="588.8" cy="491.0" rx="3.55" ry="1.75" fill="#7a3a10" fill-opacity="0.35" stroke="#c4742a" stroke-width="1.25" transform="rotate(15 588.8 491.0)"/>
<ellipse cx="575.5" cy="501.6" rx="2.05" ry="3.75" fill="#7a3a10" fill-opacity="0.35" stroke="#c4742a" stroke-width="1.25" transform="rotate(-40 575.5 501.6)"/>
<ellipse cx="553.6" cy="505.9" rx="3.55" ry="1.95" fill="#7a3a10" fill-opacity="0.35" stroke="#c4742a" stroke-width="1.25" transform="rotate(-20 553.6 505.9)"/>
<ellipse cx="544.1" cy="533.0" rx="1.85" ry="4.05" fill="#7a3a10" fill-opacity="0.35" stroke="#c4742a" stroke-width="1.25" transform="rotate(-8 544.1 533.0)"/>
<ellipse cx="590.6" cy="565.7" rx="2.15" ry="3.95" fill="#7a3a10" fill-opacity="0.35" stroke="#c4742a" stroke-width="1.25" transform="rotate(5 590.6 565.7)"/>
<ellipse cx="492.6" cy="581.7" rx="2.15" ry="3.45" fill="#7a3a10" fill-opacity="0.35" stroke="#c4742a" stroke-width="1.25" transform="rotate(-10 492.6 581.7)"/>
<ellipse cx="506.7" cy="581.2" rx="2.95" ry="2.05" fill="#7a3a10" fill-opacity="0.35" stroke="#c4742a" stroke-width="1.25" transform="rotate(20 506.7 581.2)"/>
<ellipse cx="502.4" cy="589.4" rx="3.15" ry="1.45" fill="#7a3a10" fill-opacity="0.35" stroke="#c4742a" stroke-width="1.25" transform="rotate(30 502.4 589.4)"/>
<ellipse cx="476.6" cy="600.8" rx="2.65" ry="1.95" fill="#7a3a10" fill-opacity="0.35" stroke="#c4742a" stroke-width="1.25"/>
</g></g>
<rect x="45.20" y="457.80" width="32.80" height="2.50" fill="#fff"/>
<rect x="114.20" y="457.80" width="32.30" height="2.50" fill="#fff"/>
<rect x="183.90" y="457.80" width="32.60" height="2.60" fill="#fff"/>
<rect x="184.50" y="526.90" width="32.70" height="2.70" fill="#fff"/>
<rect x="185.20" y="597.00" width="32.80" height="2.90" fill="#fff"/>
<rect x="101.30" y="596.00" width="45.20" height="2.70" fill="#fff"/>
<rect x="274.90" y="457.10" width="33.00" height="3.00" fill="#fff"/>
<rect x="345.30" y="457.10" width="32.90" height="3.00" fill="#fff"/>
<rect x="416.80" y="457.10" width="33.00" height="3.00" fill="#fff"/>
<rect x="416.80" y="526.40" width="33.00" height="2.80" fill="#fff"/>
<rect x="416.80" y="596.90" width="33.00" height="2.80" fill="#fff"/>
<rect x="332.20" y="596.10" width="45.70" height="2.90" fill="#fff"/>
<rect x="503.90" y="457.90" width="33.00" height="2.90" fill="#fff"/>
<rect x="574.30" y="457.90" width="32.90" height="2.90" fill="#fff"/>
<rect x="645.90" y="457.80" width="32.50" height="3.00" fill="#fff"/>
<rect x="645.90" y="526.70" width="32.50" height="3.20" fill="#fff"/>
<rect x="644.70" y="597.20" width="32.70" height="2.70" fill="#fff"/>
<rect x="561.80" y="596.10" width="45.20" height="2.60" fill="#fff"/>
<text x="117.5" y="619" font-size="11" fill="#111" text-anchor="middle" stroke="#111" stroke-width="0.22">Relaxed DNA minicircles</text>
<text x="350" y="619" font-size="11" fill="#111" text-anchor="middle" stroke="#111" stroke-width="0.22">(–)SC DNA minicircles</text>
<text x="579" y="619" font-size="11" fill="#111" text-anchor="middle" stroke="#111" stroke-width="0.22">(–)SC DNA minicircles + dCas9</text>
</svg>
</body></html>
